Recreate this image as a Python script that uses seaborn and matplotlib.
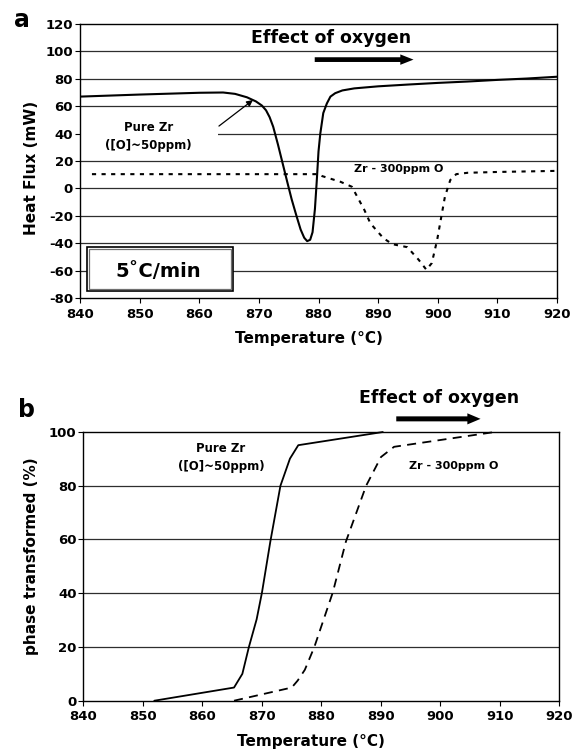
import matplotlib
matplotlib.use("Agg")
import matplotlib.pyplot as plt
import seaborn as sns
import pandas as pd
from matplotlib.patches import Rectangle

sns.set_theme(style="white")
plt.rcParams['font.family'] = ['DejaVu Sans']
plt.rcParams['font.weight'] = 'bold'
plt.rcParams['text.color'] = 'black'
plt.rcParams['axes.labelcolor'] = 'black'
plt.rcParams['xtick.color'] = 'black'
plt.rcParams['ytick.color'] = 'black'
plt.rcParams['axes.unicode_minus'] = False

# ---------------- Data ----------------
# Panel a: DSC heat flux curves
temp_pure_a = [840, 850, 860, 864, 866, 868, 869.5, 870.5, 871.2, 871.8, 872.4, 873.2, 874.0,
               874.8, 875.5, 876.3, 877.0, 877.6, 878.1, 878.6, 879.0, 879.4, 879.7, 880.0,
               880.3, 880.8, 881.4, 882, 882.8, 884, 886, 890, 895, 900, 905, 910, 915, 920]
flux_pure_a = [67, 68.5, 69.8, 70, 69, 66.5, 63.5, 60.5, 57, 52, 45, 32, 18,
               4, -8, -20, -30, -36, -38.5, -37.5, -32, -15, 5, 27,
               40, 55, 62, 67, 69.5, 71.5, 73, 74.5, 75.8, 77, 78, 79.2, 80.2, 81.5]
temp_oxy_a = [842, 850, 860, 870, 880, 880.6, 883.7, 885.6, 887.7, 888.7, 890.9, 892.4,
              894.9, 896.8, 898.1, 899.0, 899.9, 900.6, 901.2, 902.1, 903.1, 905.0, 910, 920]
flux_oxy_a = [10.4, 10.4, 10.4, 10.4, 10.4, 9.0, 4.8, 1.2, -15.8, -25.5, -36.4, -40.7,
              -42.9, -52.1, -59.4, -54.5, -37.6, -20.6, -6.1, 6.1, 10.4, 11.4, 12.0, 12.8]

# Panel b: phase transformed fraction
temp_pure_b = [851.9, 865.3, 866.7, 867.8, 869.1, 870.0, 871.4, 873.1, 874.7, 876.1, 890.3]
frac_pure_b = [0, 4.9, 10, 20, 30.3, 40.3, 59.2, 80, 90.1, 95.1, 100]
temp_oxy_b = [865.3, 875.0, 876.0, 877.2, 878.8, 881.9, 884.1, 887.5, 890.0, 892.2, 909.1]
frac_oxy_b = [0, 4.9, 7.5, 11.5, 20, 40.3, 59.2, 80, 90.7, 94.5, 100]

xticks = [840, 850, 860, 870, 880, 890, 900, 910, 920]
yticks_a = [-80, -60, -40, -20, 0, 20, 40, 60, 80, 100, 120]
yticks_b = [0, 20, 40, 60, 80, 100]

label_pure = "Pure Zr\n([O]~50ppm)"
label_oxy = "Zr - 300ppm O"
label_effect = "Effect of oxygen"
label_rate = "5˚C/min"

df_a1 = pd.DataFrame({"T": temp_pure_a, "v": flux_pure_a})
df_a2 = pd.DataFrame({"T": temp_oxy_a, "v": flux_oxy_a})
df_b1 = pd.DataFrame({"T": temp_pure_b, "v": frac_pure_b})
df_b2 = pd.DataFrame({"T": temp_oxy_b, "v": frac_oxy_b})

fig = plt.figure(figsize=(5.79, 7.52), dpi=100)
ax_a = fig.add_axes([0.1382, 0.6037, 0.8238, 0.3644])
ax_b = fig.add_axes([0.1442, 0.0682, 0.8221, 0.3573])

grid_col = '#2e2e2e'


def style_axes(ax, yticks):
    ax.set_xlim(840, 920)
    ax.set_ylim(yticks[0], yticks[-1])
    ax.set_xticks(xticks)
    ax.set_yticks(yticks)
    for yv in yticks[1:-1]:
        ax.axhline(yv, color=grid_col, lw=0.9, zorder=0.5)
    for s in ax.spines.values():
        s.set_color('black')
        s.set_linewidth(1.0)
        s.set_visible(True)
    ax.tick_params(axis='both', direction='out', length=3.5, width=0.8,
                   colors='black', labelsize=9.5, left=True, bottom=True)
    ax.tick_params(axis='y', pad=1.5)
    ax.tick_params(axis='x', pad=3.5)
    for lab in ax.get_xticklabels() + ax.get_yticklabels():
        lab.set_fontweight('bold')
    ax.set_facecolor('white')


# ---------------- Panel a ----------------
sns.lineplot(data=df_a1, x="T", y="v", ax=ax_a, sort=False, estimator=None,
             color='black', lw=1.5, zorder=3)
sns.lineplot(data=df_a2, x="T", y="v", ax=ax_a, sort=False, estimator=None,
             color='black', lw=1.5, linestyle=(0, (2, 2.6)), zorder=3)
style_axes(ax_a, yticks_a)
ax_a.set_xlabel("Temperature (°C)", fontsize=11, fontweight='bold')
ax_a.set_ylabel("Heat Flux (mW)", fontsize=11, fontweight='bold')
ax_a.xaxis.set_label_coords(0.48, -0.12)
ax_a.yaxis.set_label_coords(-0.086, 0.476)

ax_a.text(882.1, 109.5, label_effect, ha='center', va='center', fontsize=12.5,
          fontweight='bold')
ax_a.annotate('', xy=(896.4, 94), xytext=(878.9, 94),
              arrowprops=dict(arrowstyle='simple,head_length=0.95,head_width=0.75,tail_width=0.34',
                              mutation_scale=10, color='black', lw=0))
# white patch behind the pure-Zr label (hides part of the 40 gridline)
ax_a.add_patch(Rectangle((840.2, 35), 23.0, 10, facecolor='white', edgecolor='none',
                         zorder=1))
ax_a.text(851.5, 38, label_pure, ha='center', va='center', fontsize=8.5,
          fontweight='bold', linespacing=1.5, zorder=4)
ax_a.annotate('', xy=(869.0, 64.5), xytext=(863.3, 45.5),
              arrowprops=dict(arrowstyle='-|>', color='black', lw=0.9,
                              mutation_scale=9, shrinkA=0, shrinkB=0))
ax_a.text(893.4, 14, label_oxy, ha='center', va='center', fontsize=8,
          fontweight='bold')

ax_a.add_patch(Rectangle((841.1, -75.2), 24.6, 32.3, facecolor='white',
                         edgecolor='black', lw=1.2, zorder=4))
ax_a.add_patch(Rectangle((841.5, -73.7), 23.8, 29.3, facecolor='none',
                         edgecolor='#707070', lw=0.9, zorder=4))
ax_a.text(853.1, -60.3, label_rate, ha='center', va='center', fontsize=14,
          fontweight='bold', zorder=5)

# ---------------- Panel b ----------------
sns.lineplot(data=df_b1, x="T", y="v", ax=ax_b, sort=False, estimator=None,
             color='black', lw=1.3, zorder=3, clip_on=False)
sns.lineplot(data=df_b2, x="T", y="v", ax=ax_b, sort=False, estimator=None,
             color='black', lw=1.3, linestyle=(0, (5, 3.5)), zorder=3, clip_on=False)
style_axes(ax_b, yticks_b)
ax_b.set_xlabel("Temperature (°C)", fontsize=11, fontweight='bold')
ax_b.set_ylabel("phase transformed (%)", fontsize=11, fontweight='bold')
ax_b.xaxis.set_label_coords(0.478, -0.124)
ax_b.yaxis.set_label_coords(-0.093, 0.538)

ax_b.text(899.8, 112.7, label_effect, ha='center', va='center', fontsize=12.5,
          fontweight='bold', clip_on=False)
ax_b.annotate('', xy=(907.2, 104.9), xytext=(892.1, 104.9), annotation_clip=False,
              arrowprops=dict(arrowstyle='simple,head_length=0.95,head_width=0.8,tail_width=0.36',
                              mutation_scale=10, color='black', lw=0))
ax_b.text(863.1, 90.5, label_pure, ha='center', va='center', fontsize=8.5,
          fontweight='bold', linespacing=1.5)
ax_b.text(902.3, 87.5, label_oxy, ha='center', va='center', fontsize=8,
          fontweight='bold')

fig.text(21.7 / 579, 1 - 20 / 752, 'a', ha='center', va='center', fontsize=17,
         fontweight='bold')
fig.text(27 / 579, 1 - 410 / 752, 'b', ha='center', va='center', fontsize=17,
         fontweight='bold')

fig.savefig("out.png", dpi=100, facecolor='white')
